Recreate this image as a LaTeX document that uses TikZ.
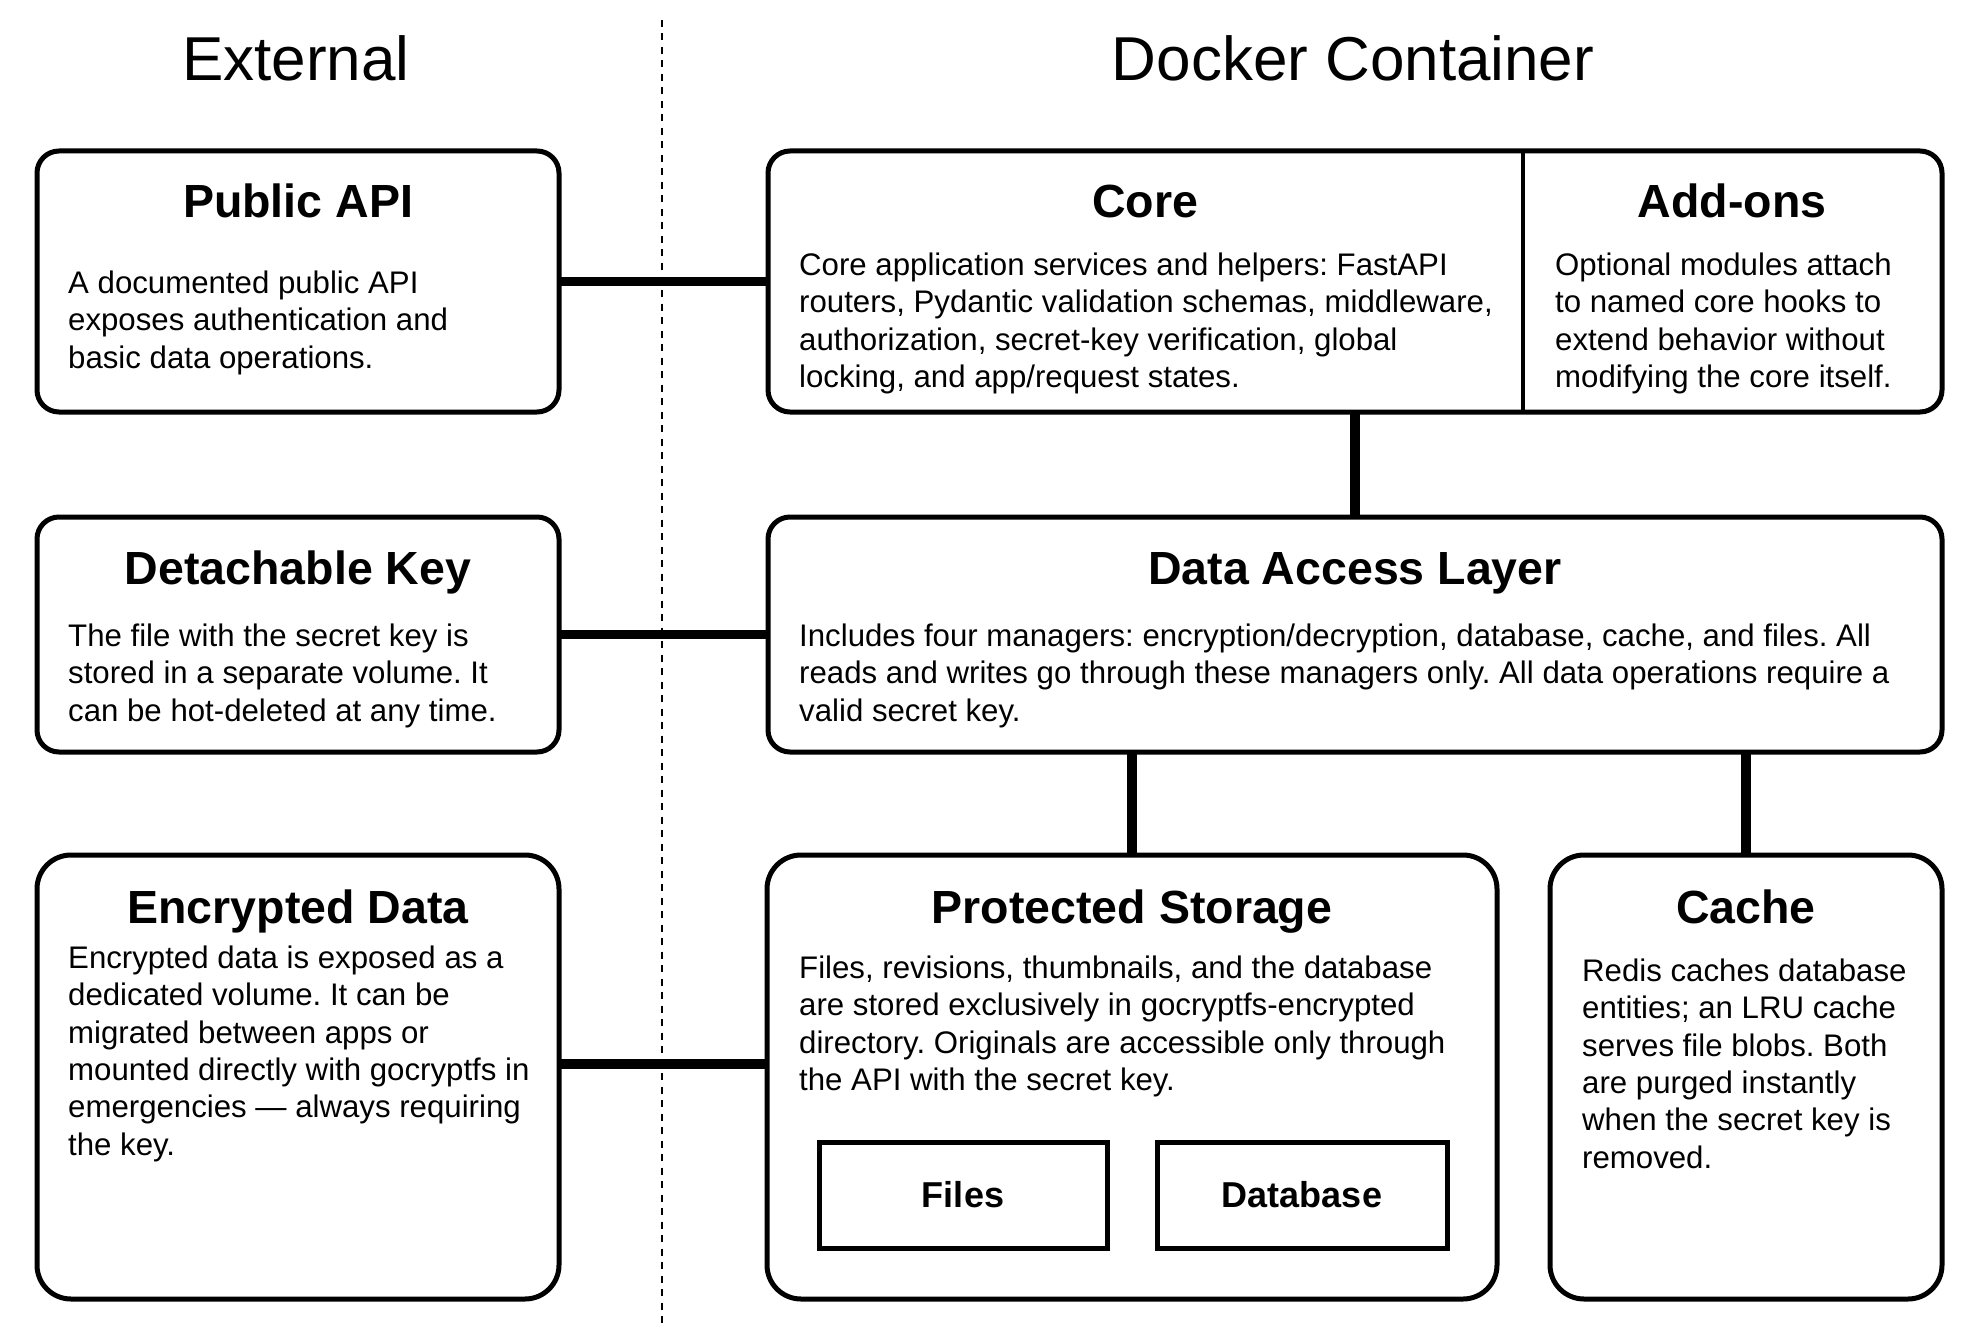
\documentclass[tikz,border=0pt]{standalone}
\usepackage{fontspec}
\setmainfont{Liberation Sans}
\frenchspacing
\begin{document}
\begin{tikzpicture}[x=1pt,y=-1pt,
  box/.style={draw, line width=5pt, rounded corners=22pt, fill=white, inner sep=0pt, outer sep=0pt, anchor=north west},
  bbox/.style={box, rounded corners=34pt},
  sbox/.style={draw, line width=5pt, fill=white, inner sep=0pt, outer sep=0pt, font=\bfseries\fontsize{36}{43}\selectfont},
  ttl/.style={inner sep=0pt, anchor=base, font=\bfseries\fontsize{46.5}{55}\selectfont},
  hdr/.style={inner sep=0pt, anchor=base, font=\fontsize{62}{74}\selectfont},
  body/.style={inner sep=0pt, anchor=north west, align=left, font=\frenchspacing\fontsize{31.2}{37.4}\selectfont},
  conn/.style={line width=9.5pt},
  sepline/.style={line width=2pt, dash pattern=on 7pt off 6.5pt},
  divline/.style={line width=3.5pt}]
\useasboundingbox (0,0) rectangle (1977,1340);

% headers
\node[hdr] (hext) at (296,81) {External};
\node[hdr] (hdock) at (1353,81) {Docker Container};

% separator
\coordinate (stop) at (662,20);
\coordinate (sbot) at (662,1327);
\draw[sepline] (stop) -- (sbot);

% boxes (geometry)
\node[box, minimum width=522pt, minimum height=261pt] (pubapi) at (37,151) {};
\node[box, minimum width=1174pt, minimum height=261pt] (top) at (768,151) {};
\node[box, minimum width=522pt, minimum height=235pt] (detkey) at (37,517) {};
\node[box, minimum width=1174pt, minimum height=235pt] (dal) at (768,517) {};
\node[bbox, minimum width=522pt, minimum height=444pt] (encr) at (37,855) {};
\node[bbox, minimum width=730pt, minimum height=444pt] (prot) at (767,855) {};
\node[bbox, minimum width=392pt, minimum height=444pt] (cache) at (1550,855) {};

% connectors
\draw[conn] (pubapi.east) -- (top.west);
\draw[conn] (detkey.east) -- (dal.west);
\draw[conn] (encr.east |- 0,1064) -- (prot.west |- 0,1064);
\draw[conn] (top.south) -- (dal.north);
\draw[conn] (prot.north |- dal.south) -- (prot.north);
\draw[conn] (cache.north |- dal.south) -- (cache.north);

% divider between Core and Add-ons
\coordinate (dvt) at (1523,151);
\coordinate (dvb) at (1523,412);
\draw[divline] (dvt) -- (dvb);

% inner boxes
\node[sbox, minimum width=288pt, minimum height=106pt] (files) at (963,1195) {Files};
\node[sbox, minimum width=290pt, minimum height=106pt] (db) at (1302,1195) {Database};

% titles
\node[ttl] (tpub) at (298,218) {Public API};
\node[ttl] (tcore) at (1145,218) {Core};
\node[ttl] (tadd) at (1732,218) {Add-ons};
\node[ttl] (tdet) at (298,584) {Detachable Key};
\node[ttl] (tdal) at (1355,584) {Data Access Layer};
\node[ttl] (tenc) at (298,923) {Encrypted Data};
\node[ttl] (tprot) at (1132,923) {Protected Storage};
\node[ttl] (tcache) at (1746,923) {Cache};

% body texts
\node[body] (bpub) at (68,265) {\rule{0pt}{28pt}A documented public API\\exposes authentication and\\basic data operations.};
\node[body] (bcore) at (799,247) {\rule{0pt}{28pt}Core application services and helpers: FastAPI\\routers, Pydantic validation schemas, middleware,\\authorization, secret-key verification, global\\locking, and app/request states.};
\node[body] (badd) at (1555,247) {\rule{0pt}{28pt}Optional modules attach\\to named core hooks to\\extend behavior without\\modifying the core itself.};
\node[body] (bdet) at (68,618) {\rule{0pt}{28pt}The file with the secret key is\\stored in a separate volume. It\\can be hot-deleted at any time.};
\node[body] (bdal) at (799,618) {\rule{0pt}{28pt}Includes four managers: encryption/decryption, database, cache, and files. All\\reads and writes go through these managers only. All data operations require a\\valid secret key.};
\node[body] (benc) at (68,940) {\rule{0pt}{28pt}Encrypted data is exposed as a\\dedicated volume. It can be\\migrated between apps or\\mounted directly with gocryptfs in\\emergencies --- always requiring\\the key.};
\node[body] (bprot) at (799,950) {\rule{0pt}{28pt}Files, revisions, thumbnails, and the database\\are stored exclusively in gocryptfs-encrypted\\directory. Originals are accessible only through\\the API with the secret key.};
\node[body] (bcache) at (1582,953) {\rule{0pt}{28pt}Redis caches database\\entities; an LRU cache\\serves file blobs. Both\\are purged instantly\\when the secret key is\\removed.};
\end{tikzpicture}
\end{document}
